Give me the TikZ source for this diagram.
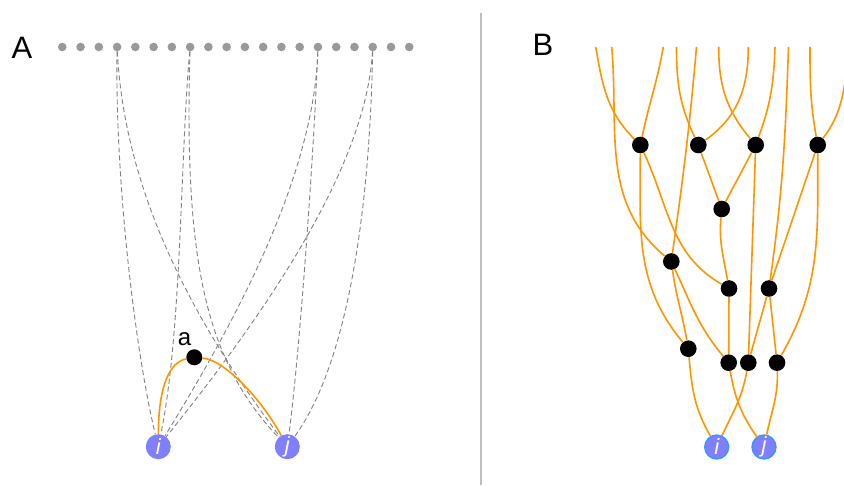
\documentclass[tikz,border=0pt]{standalone}
\usepackage{fontspec}
\setmainfont{Liberation Sans}
\definecolor{dotgray}{RGB}{153,153,153}
\definecolor{dashgray}{RGB}{130,130,130}
\definecolor{edgeorange}{RGB}{255,150,0}
\definecolor{leaf}{RGB}{127,127,255}
\definecolor{leafring}{RGB}{51,153,255}
\definecolor{divider}{RGB}{190,190,190}
\tikzset{
  topdot/.style={circle, fill=dotgray, minimum size=8.6pt, inner sep=0pt},
  anc/.style={circle, fill=black, minimum size=16.6pt, inner sep=0pt},
  leafA/.style={circle, fill=leaf, minimum size=25pt, inner sep=0pt, text=white,
    font=\fontsize{22}{22}\selectfont\itshape},
  leafB/.style={leafA, draw=leafring, line width=1.3pt, minimum size=24pt},
  dashlink/.style={draw=dashgray, line width=0.9pt, dash pattern=on 5pt off 3pt},
  lineage/.style={draw=edgeorange, line width=1.6pt},
  panellabel/.style={font=\fontsize{31}{31}\selectfont, inner sep=0pt},
}
\begin{document}
\begin{tikzpicture}[x=1pt,y=1pt]
\useasboundingbox (0,0) rectangle (844,485);
\fill[white] (0,0) rectangle (844,485);

% ---------- Panel A ----------
\node[panellabel] (labA) at (22,437.5) {A};
\foreach \k in {1,...,20}
  \node[topdot] (d\k) at ({62.3+18.26*(\k-1)},438) {};

\node[leafA] (i) at (158.3,38.3) {i};
\node[leafA] (j) at (287.3,38.3) {j};
\node[anc, minimum size=16pt] (a) at (194.3,127.7) {};
\node[font=\fontsize{24}{24}\selectfont, inner sep=0pt] (alab) at (184.5,145.5) {a};

\draw[dashlink] (d4) .. controls (115,305) and (135,135) .. (i);
\draw[dashlink] (d4) .. controls (125,285) and (200,155) .. (j);
\draw[dashlink] (d8) .. controls (180,325) and (182,155) .. (i);
\draw[dashlink] (d8) .. controls (184,225) and (205,125) .. (j);
\draw[dashlink] (d15) .. controls (314,305) and (230,155) .. (i);
\draw[dashlink] (d15) .. controls (314,335) and (300,135) .. (j);
\draw[dashlink] (d18) .. controls (366,315) and (260,165) .. (i);
\draw[dashlink] (d18) .. controls (370,285) and (350,125) .. (j);

\draw[lineage] (i) .. controls (158.5,100) and (170,123) .. (a);
\draw[lineage] (a) .. controls (225,125) and (262,85) .. (j);

% ---------- divider ----------
\coordinate (divtop) at (481,472);
\coordinate (divbot) at (481,0);
\draw[divider, line width=1.5pt] (divtop) -- (divbot);

% ---------- Panel B ----------
\node[panellabel] (labB) at (543,440.5) {B};

\coordinate (t1) at (595.7,438);
\coordinate (t2) at (611.7,438);
\coordinate (t3) at (663.3,438);
\coordinate (t4) at (676.5,438);
\coordinate (t5) at (696.5,438);
\coordinate (t6) at (718.7,438);
\coordinate (t7) at (748.3,438);
\coordinate (t8) at (775,438);
\coordinate (t9) at (788.5,438);
\coordinate (t10) at (810,438);
\coordinate (t11) at (856,450);

\node[anc] (n1) at (640.3,340) {};
\node[anc] (n2) at (698.3,340) {};
\node[anc] (n3) at (755.7,340) {};
\node[anc] (n4) at (817.7,340) {};
\node[anc] (n5) at (721.7,276) {};
\node[anc] (n6) at (671.3,223.5) {};
\node[anc] (n7) at (729,196.5) {};
\node[anc] (n8) at (769,196.5) {};
\node[anc] (n9) at (688.3,136.3) {};
\node[anc] (n10) at (728.7,122.3) {};
\node[anc] (n11) at (748.3,122.3) {};
\node[anc] (n12) at (777,122.3) {};
\node[leafB] (bi) at (716.7,38) {i};
\node[leafB] (bj) at (764,38) {j};

\begin{scope}
\clip (0,0) rectangle (844,485);
\draw[lineage] (t1) to[out=-80, in=135] (n1);
\draw[lineage] (t2) to[out=-85, in=140] (n6);
\draw[lineage] (t3) to[out=-100, in=78] (n1);
\draw[lineage] (t4) to[out=-90, in=115] (n2);
\draw[lineage] (t5) to[out=-95, in=82] (n6);
\draw[lineage] (t6) to[out=-90, in=130] (n3);
\draw[lineage] (t7) to[out=-90, in=35] (n2);
\draw[lineage] (t8) to[out=-92, in=70] (n3);
\draw[lineage] (t9) to[out=-92, in=82] (n8);
\draw[lineage] (t10) to[out=-90, in=100] (n4);
\draw[lineage] (t11) to[out=-110, in=52] (n4);
\end{scope}

\draw[lineage] (n1) to[out=-90, in=130] (n9);
\draw[lineage] (n1) to[out=-65, in=150] (n7);
\draw[lineage] (n2) -- (n5);
\draw[lineage] (n3) -- (n5);
\draw[lineage] (n3) -- (n11);
\draw[lineage] (n4) -- (n8);
\draw[lineage] (n4) to[out=-90, in=60] (n12);
\draw[lineage] (n5) to[out=-95, in=100] (n7);
\draw[lineage] (n6) to[out=-82, in=100] (n9);
\draw[lineage] (n6) to[out=-65, in=130] (n10);
\draw[lineage] (n7) -- (n10);
\draw[lineage] (n8) -- (n11);
\draw[lineage] (n8) -- (n12);
\draw[lineage] (n9) to[out=-85, in=120] (bi);
\draw[lineage] (n10) to[out=-80, in=125] (bj);
\draw[lineage] (n11) to[out=-100, in=65] (bi);
\draw[lineage] (n12) to[out=-88, in=78] (bj);
\end{tikzpicture}
\end{document}
